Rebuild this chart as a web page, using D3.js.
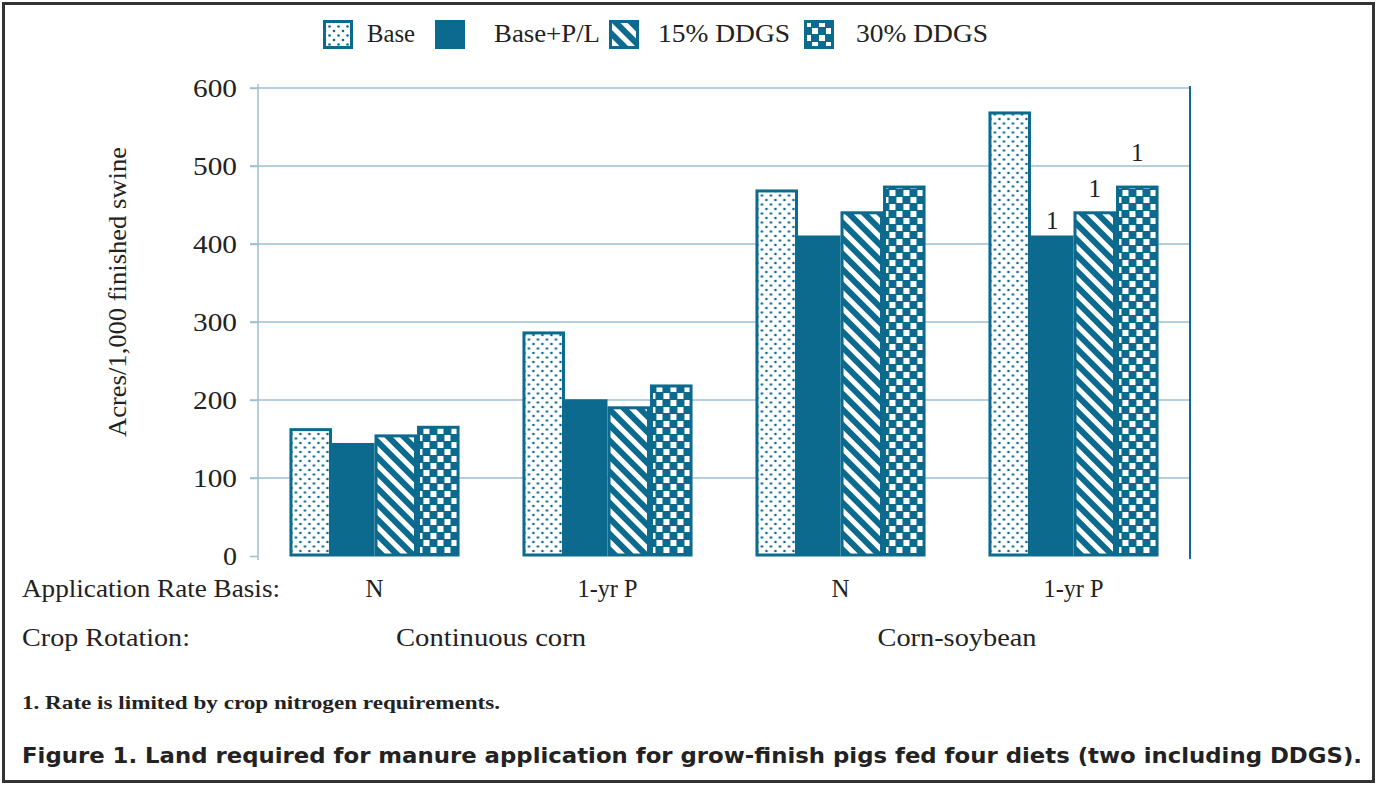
<!DOCTYPE html>
<html>
<head>
<meta charset="utf-8">
<script src="https://cdn.jsdelivr.net/npm/d3@7"></script>
<style>
  body { margin: 0; background: #fff; }
  svg { display: block; }
</style>
</head>
<body>
<svg id="chart" width="1377" height="785"></svg>
<script>
const series = ['Base', 'Base+P/L', '15% DDGS', '30% DDGS'];
const rateBasis = ['N', '1-yr P', 'N', '1-yr P'];
const rotations = ['Continuous corn', 'Corn-soybean'];
const values = [
  [162, 143, 154, 165],
  [286, 199, 190, 218],
  [468, 409, 440, 473],
  [568, 409, 440, 473]
];
// footnote markers: [group, series]
const notes = [[3, 1], [3, 2], [3, 3]];
const yTicks = [0, 100, 200, 300, 400, 500, 600];

const teal = '#0b6a8d';
const grid = '#9dbfd4';
const serif = '"Liberation Serif", "DejaVu Serif", serif';
const fs = 25;

const svg = d3.select('#chart');
const padding = { top: 88, right: 187, bottom: 229, left: 258 };
const w = 1377, h = 785;

// frame
svg.append('rect')
  .attr('x', 3.5).attr('y', 3.5)
  .attr('width', w - 7).attr('height', h - 7)
  .attr('fill', 'none').attr('stroke', '#333').attr('stroke-width', 3);

// patterns
const defs = svg.append('defs');
const dots = defs.append('pattern').attr('id', 'p0')
  .attr('patternUnits', 'userSpaceOnUse').attr('width', 9).attr('height', 9);
dots.append('rect').attr('width', 9).attr('height', 9).attr('fill', '#fff');
dots.append('circle').attr('cx', 2).attr('cy', 2).attr('r', 1.3).attr('fill', teal);
dots.append('circle').attr('cx', 6.5).attr('cy', 6.5).attr('r', 1.3).attr('fill', teal);

const solid = defs.append('pattern').attr('id', 'p1')
  .attr('patternUnits', 'userSpaceOnUse').attr('width', 10).attr('height', 10);
solid.append('rect').attr('width', 10).attr('height', 10).attr('fill', teal);

const stripes = defs.append('pattern').attr('id', 'p2')
  .attr('patternUnits', 'userSpaceOnUse').attr('width', 11).attr('height', 11)
  .attr('patternTransform', 'rotate(-45)');
stripes.append('rect').attr('width', 11).attr('height', 11).attr('fill', '#fff');
stripes.append('rect').attr('width', 6).attr('height', 11).attr('fill', teal);

const checks = defs.append('pattern').attr('id', 'p3')
  .attr('patternUnits', 'userSpaceOnUse').attr('width', 14).attr('height', 14);
checks.append('rect').attr('width', 14).attr('height', 14).attr('fill', teal);
checks.append('rect').attr('x', 1).attr('y', 1).attr('width', 6).attr('height', 6).attr('fill', '#fff');
checks.append('rect').attr('x', 8).attr('y', 8).attr('width', 6).attr('height', 6).attr('fill', '#fff');

// scales
const x0 = d3.scaleBand()
  .domain(d3.range(values.length))
  .range([padding.left, w - padding.right])
  .paddingInner(0.27).paddingOuter(0.135);
const x1 = d3.scaleBand()
  .domain(d3.range(series.length))
  .range([0, x0.bandwidth()]);
const yScale = d3.scaleLinear()
  .domain([0, 600])
  .range([h - padding.bottom, padding.top]);

// grid
svg.append('g')
  .selectAll('line')
  .data(yTicks.slice(1))
  .join('line')
  .attr('x1', padding.left - 8).attr('x2', w - padding.right)
  .attr('y1', (d) => yScale(d)).attr('y2', (d) => yScale(d))
  .attr('stroke', grid).attr('stroke-width', 1.5);

// y axis
const yAxis = svg.append('g')
  .attr('class', 'y-axis')
  .attr('transform', `translate(${padding.left}, 0)`)
  .call(d3.axisLeft(yScale).tickValues(yTicks).tickSize(8).tickPadding(13));
yAxis.select('.domain').attr('stroke', grid).attr('stroke-width', 1.5)
  .attr('d', `M0,${yScale(600) - 4}V${yScale(0) + 4}`);
yAxis.selectAll('.tick line').attr('stroke', grid).attr('stroke-width', 1.5);
yAxis.selectAll('.tick text')
  .attr('font-family', serif).attr('font-size', fs).attr('fill', '#222')
  .attr('textLength', (d) => (d === 0 ? 14 : 44)).attr('lengthAdjust', 'spacingAndGlyphs');

// right border
svg.append('line')
  .attr('x1', w - padding.right).attr('x2', w - padding.right)
  .attr('y1', yScale(600) - 2).attr('y2', yScale(0) + 3)
  .attr('stroke', teal).attr('stroke-width', 2);

// bars
const groups = svg.append('g')
  .selectAll('g')
  .data(values)
  .join('g')
  .attr('transform', (d, i) => `translate(${x0(i)}, 0)`);
groups.selectAll('rect')
  .data((d) => d)
  .join('rect')
  .attr('x', (d, j) => x1(j) + 1.5)
  .attr('y', (d) => yScale(d))
  .attr('width', x1.bandwidth() - 3)
  .attr('height', (d) => yScale(0) - yScale(d) - 1)
  .attr('fill', (d, j) => `url(#p${j})`)
  .attr('stroke', teal).attr('stroke-width', 3);

// footnote markers
const noteLift = [0, 8, 16, 26];
svg.append('g')
  .selectAll('text')
  .data(notes)
  .join('text')
  .attr('x', (d) => x0(d[0]) + x1(d[1]) + x1.bandwidth() / 2)
  .attr('y', (d) => yScale(values[d[0]][d[1]]) - noteLift[d[1]])
  .attr('text-anchor', 'middle')
  .attr('font-family', serif).attr('font-size', fs).attr('fill', '#222')
  .text('1');

// generic serif text helper
const label = (x, y, t, anchor, len) => {
  const el = svg.append('text')
    .attr('x', x).attr('y', y)
    .attr('text-anchor', anchor)
    .attr('font-family', serif).attr('font-size', fs).attr('fill', '#222')
    .text(t);
  if (len) el.attr('textLength', len).attr('lengthAdjust', 'spacingAndGlyphs');
  return el;
};

// y title
label(0, 0, 'Acres/1,000 finished swine', 'middle', 290)
  .attr('transform', `translate(126, ${(yScale(0) + yScale(600)) / 2 - 30}) rotate(-90)`);

// category rows
label(22, 597, 'Application Rate Basis:', 'start', 258);
label(22, 646, 'Crop Rotation:', 'start', 168);
const basisLen = { 'N': 18, '1-yr P': 60 };
rateBasis.forEach((t, i) => label(x0(i) + x0.bandwidth() / 2, 597, t, 'middle', basisLen[t]));
const rotLen = [190, 159];
rotations.forEach((t, i) => {
  const cx = (x0(i * 2) + x0(i * 2 + 1) + x0.bandwidth()) / 2;
  label(cx, 646, t, 'middle', rotLen[i]);
});

// legend
const legendX = [323, 435, 609, 804];
const legendTextX = [44, 59, 49, 52];
const legendLen = [48, 106, 132, 132];
const legend = svg.append('g')
  .selectAll('g')
  .data(series)
  .join('g')
  .attr('transform', (d, i) => `translate(${legendX[i]}, 20)`);
legend.append('rect')
  .attr('x', 1.5).attr('y', 1.5)
  .attr('width', 27).attr('height', 26)
  .attr('fill', (d, i) => `url(#p${i})`)
  .attr('stroke', teal).attr('stroke-width', 3);
legend.append('text')
  .attr('x', (d, i) => legendTextX[i])
  .attr('y', 22)
  .attr('font-family', serif).attr('font-size', fs).attr('fill', '#222')
  .attr('textLength', (d, i) => legendLen[i]).attr('lengthAdjust', 'spacingAndGlyphs')
  .text((d) => d);

// footnote and caption
svg.append('text')
  .attr('x', 22).attr('y', 709)
  .attr('font-family', serif).attr('font-size', 19).attr('font-weight', 'bold').attr('fill', '#222')
  .attr('textLength', 478).attr('lengthAdjust', 'spacingAndGlyphs')
  .text('1. Rate is limited by crop nitrogen requirements.');
svg.append('text')
  .attr('x', 22).attr('y', 763)
  .attr('font-family', '"DejaVu Sans", sans-serif').attr('font-size', 22).attr('font-weight', 'bold').attr('fill', '#222')
  .attr('textLength', 1340).attr('lengthAdjust', 'spacingAndGlyphs')
  .text('Figure 1. Land required for manure application for grow-finish pigs fed four diets (two including DDGS).');
</script>
</body>
</html>
